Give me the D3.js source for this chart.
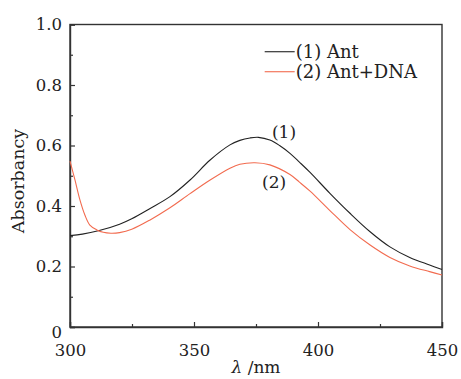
<!DOCTYPE html>
<html>
<head>
<meta charset="utf-8">
<script src="https://cdn.jsdelivr.net/npm/d3@7"></script>
<style>
  body { margin: 0; background: #fff; }
  text { font-family: "DejaVu Serif", serif; fill: #222; }
</style>
</head>
<body>
<div id="chart"></div>
<script>
// wavelength (nm) and absorbance
const wavelength1 = [300, 305, 311.4, 320, 324.9, 332.3, 340.3, 348.4, 356.5, 364.5, 368.5, 372.6, 376, 380.6, 384.5, 388.7, 392.5, 396.8, 404.8, 412.9, 421, 429, 437, 445, 450]
const absAnt = [0.302, 0.307, 0.318, 0.34, 0.358, 0.392, 0.431, 0.486, 0.552, 0.602, 0.617, 0.625, 0.627, 0.618, 0.6, 0.574, 0.545, 0.511, 0.442, 0.376, 0.315, 0.265, 0.23, 0.205, 0.19]

const wavelength2 = [300, 302, 304, 306, 308, 310.8, 313.4, 316.5, 320, 324.9, 332.3, 340.3, 348.4, 356.5, 364.5, 368.5, 374.6, 380.6, 388.7, 392.5, 396.8, 404.8, 412.9, 421, 429, 437, 445, 450]
const absAntDna = [0.548, 0.486, 0.42, 0.37, 0.337, 0.321, 0.313, 0.31, 0.312, 0.323, 0.354, 0.394, 0.441, 0.486, 0.525, 0.538, 0.543, 0.536, 0.504, 0.479, 0.449, 0.385, 0.322, 0.271, 0.23, 0.202, 0.183, 0.172]

const xTicks = [300, 350, 400, 450]
const xMinor = [325, 375, 425]
const yTicks = [0, 0.2, 0.4, 0.6, 0.8, 1.0]
const yMinor = [0.1, 0.3, 0.5, 0.7, 0.9]

const seriesNames = ['(1) Ant', '(2) Ant+DNA']
const seriesColors = ['#222222', '#f26b4f']

function draw(){
    const dimension = {
        width: 461,
        height: 379,
        margin: {top: 24.5, right: 19, bottom: 52, left: 70}
    }
    const ctrW = dimension.width - dimension.margin.left - dimension.margin.right
    const ctrH = dimension.height - dimension.margin.top - dimension.margin.bottom

    const svg = d3.select('#chart')
        .append('svg')
        .attr('width', dimension.width)
        .attr('height', dimension.height)

    const ctr = svg.append('g')
        .attr('transform', `translate(${dimension.margin.left}, ${dimension.margin.top})`)

    // Scales
    const xScale = d3.scaleLinear().domain([300, 450]).range([0, ctrW])
    const yScale = d3.scaleLinear().domain([0, 1]).range([ctrH, 0])

    // Frame
    ctr.append('rect')
        .attr('width', ctrW)
        .attr('height', ctrH)
        .attr('fill', 'none')
        .attr('stroke', '#333')
        .attr('stroke-width', 1.4)

    // Axes with inward ticks
    const xAxis = d3.axisBottom(xScale).tickValues(xTicks).tickSize(-5).tickPadding(17)
        .tickFormat(d3.format('d'))
    ctr.append('g')
        .attr('transform', `translate(0, ${ctrH})`)
        .call(xAxis)
    ctr.append('g')
        .attr('transform', `translate(0, ${ctrH})`)
        .call(d3.axisBottom(xScale).tickValues(xMinor).tickSize(-3).tickFormat(''))
        .call(g => g.select('.domain').remove())

    const yAxis = d3.axisLeft(yScale).tickValues(yTicks).tickSize(-5).tickPadding(8)
        .tickFormat(d => d === 0 ? '0' : d3.format('.1f')(d))
    const yAxisG = ctr.append('g').call(yAxis)
    ctr.append('g')
        .call(d3.axisLeft(yScale).tickValues(yMinor).tickSize(-3).tickFormat(''))
        .call(g => g.select('.domain').remove())

    ctr.selectAll('.domain').attr('stroke', '#333').attr('stroke-width', 1.4)
    ctr.selectAll('.tick line').attr('stroke', '#333').attr('stroke-width', 1.2)
    ctr.selectAll('.tick text')
        .style('font-family', '"DejaVu Serif", serif')
        .style('font-size', '16.5px')
        .attr('fill', '#222')
    yAxisG.selectAll('.tick').filter(d => d === 0).select('text').attr('dy', '0.62em')

    // Lines
    const line = d3.line()
        .x(d => xScale(d[0]))
        .y(d => yScale(d[1]))
        .curve(d3.curveCatmullRom)

    const series = [
        d3.zip(wavelength1, absAnt),
        d3.zip(wavelength2, absAntDna)
    ]

    ctr.selectAll('path.curve')
        .data(series)
        .join('path')
        .classed('curve', true)
        .attr('d', line)
        .attr('fill', 'none')
        .attr('stroke', (d, i) => seriesColors[i])
        .attr('stroke-width', 1.1)

    // Curve labels
    ctr.append('text')
        .attr('x', xScale(386.3))
        .attr('y', yScale(0.646))
        .attr('text-anchor', 'middle')
        .attr('dy', '0.35em')
        .style('font-size', '17px')
        .text('(1)')
    ctr.append('text')
        .attr('x', xScale(382.3))
        .attr('y', yScale(0.48))
        .attr('text-anchor', 'middle')
        .attr('dy', '0.35em')
        .style('font-size', '17px')
        .text('(2)')

    // Legend
    const legend = ctr.append('g')
        .attr('transform', `translate(${xScale(378.5)}, ${yScale(0.91)})`)
    const items = legend.selectAll('g')
        .data(seriesNames)
        .join('g')
        .attr('transform', (d, i) => `translate(0, ${i * 20})`)
    items.append('line')
        .attr('x1', 0).attr('x2', 30)
        .attr('stroke', (d, i) => seriesColors[i])
        .attr('stroke-width', 1.1)
    items.append('text')
        .attr('x', 31)
        .attr('dy', '0.35em')
        .style('font-size', '18px')
        .text(d => d)

    // Axis titles
    svg.append('text')
        .attr('transform', `translate(24, 181) rotate(-90)`)
        .attr('text-anchor', 'middle')
        .style('font-size', '17.5px')
        .text('Absorbancy')

    const xt = svg.append('text')
        .attr('x', dimension.margin.left + xScale(375))
        .attr('y', 373)
        .attr('text-anchor', 'middle')
        .style('font-size', '17px')
    xt.append('tspan').style('font-style', 'italic').text('λ')
    xt.append('tspan').text(' /nm')
}

draw()
</script>
</body>
</html>
